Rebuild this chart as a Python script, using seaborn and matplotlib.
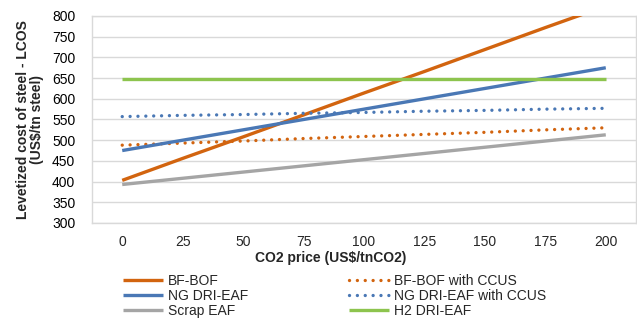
import matplotlib as mpl
mpl.use('Agg')
import matplotlib.pyplot as plt
import seaborn as sns
import pandas as pd

################################################################################
# DATA
################################################################################

co2_price = ['0', '25', '50', '75', '100', '125', '150', '175', '200']

bf_bof = [403, 456, 508, 561, 614, 666, 719, 772, 824]
bf_bof_ccus = [488, 493, 498, 504, 509, 514, 519, 525, 530]
ng_dri_eaf = [475, 500, 525, 550, 575, 600, 625, 650, 675]
ng_dri_eaf_ccus = [557, 560, 562, 565, 567, 570, 572, 575, 577]
scrap_eaf = [393, 408, 423, 438, 453, 468, 483, 498, 513]
h2_dri_eaf = [647, 647, 647, 647, 647, 647, 647, 647, 647]

# name, values, colour, style
series = [
    ('BF-BOF', bf_bof, '#D2640F', '-'),
    ('BF-BOF with CCUS', bf_bof_ccus, '#D2640F', ':'),
    ('NG DRI-EAF', ng_dri_eaf, '#4A78B5', '-'),
    ('NG DRI-EAF with CCUS', ng_dri_eaf_ccus, '#4A78B5', ':'),
    ('Scrap EAF', scrap_eaf, '#A5A5A5', '-'),
    ('H2 DRI-EAF', h2_dri_eaf, '#8DC44E', '-'),
]

################################################################################
# PLOT
################################################################################

sns.set_style('white')
plt.rcParams['font.family'] = ['Liberation Sans', 'DejaVu Sans']

fig = plt.figure(figsize=(6.37, 3.2), dpi=100)
ax = fig.add_axes([92 / 637, 1 - 223 / 320, (636 - 92) / 637, (223 - 16) / 320])

lw = 2.4
handles = {}
for name, values, color, style in series:
    df = pd.DataFrame({'price': pd.Categorical(co2_price, categories=co2_price, ordered=True),
                       'cost': values})
    sns.lineplot(data=df, x='price', y='cost', ax=ax, color=color, linewidth=lw,
                 label=name, legend=False, zorder=3)
    line = ax.lines[-1]
    if style == ':':
        line.set_linestyle((0, (0.01, 2.35)))
        line.set_dash_capstyle('round')
    else:
        line.set_solid_capstyle('butt')
    handles[name] = line

ax.set_xlim(-0.5, len(co2_price) - 0.5)
ax.set_ylim(300, 800)
ax.set_yticks(range(300, 801, 50))
ax.set_xticks(range(len(co2_price)))
ax.set_xticklabels(co2_price)
ax.set_xticks([i + 0.5 for i in range(len(co2_price) - 1)], minor=True)

ax.grid(axis='y', color='#D9D9D9', linewidth=1.0, zorder=0)
ax.set_axisbelow(True)
for side in ['left', 'right', 'top', 'bottom']:
    ax.spines[side].set_visible(True)
    ax.spines[side].set_color('#D9D9D9')
    ax.spines[side].set_linewidth(1.0)

ax.tick_params(axis='y', length=0, pad=12, labelsize=10, colors='#000000')
ax.tick_params(axis='x', which='major', length=0, pad=9, labelsize=10)
ax.tick_params(axis='x', which='minor', direction='in', length=3, color='#D9D9D9', width=1.0)

ax.set_xlabel('')
ax.set_ylabel('Levetized cost of steel - LCOS\n(US$/tn steel)', fontsize=10,
              fontweight='bold', linespacing=1.0)
ax.yaxis.set_label_coords(-0.088, 0.5)

fig.text(331 / 637, 1 - 258 / 320, 'CO2 price (US$/tnCO2)', ha='center', va='center',
         fontsize=10, fontweight='bold')

order = ['BF-BOF', 'NG DRI-EAF', 'Scrap EAF',
         'BF-BOF with CCUS', 'NG DRI-EAF with CCUS', 'H2 DRI-EAF']
leg = fig.legend([handles[n] for n in order], order, ncol=2, loc='upper left',
                 bbox_to_anchor=(123 / 637, 1 - 274 / 320), frameon=False,
                 fontsize=10, handlelength=2.9, handletextpad=0.36,
                 columnspacing=7.2, labelspacing=0.06, borderaxespad=0, borderpad=0)

fig.savefig('out.png', dpi=100)
